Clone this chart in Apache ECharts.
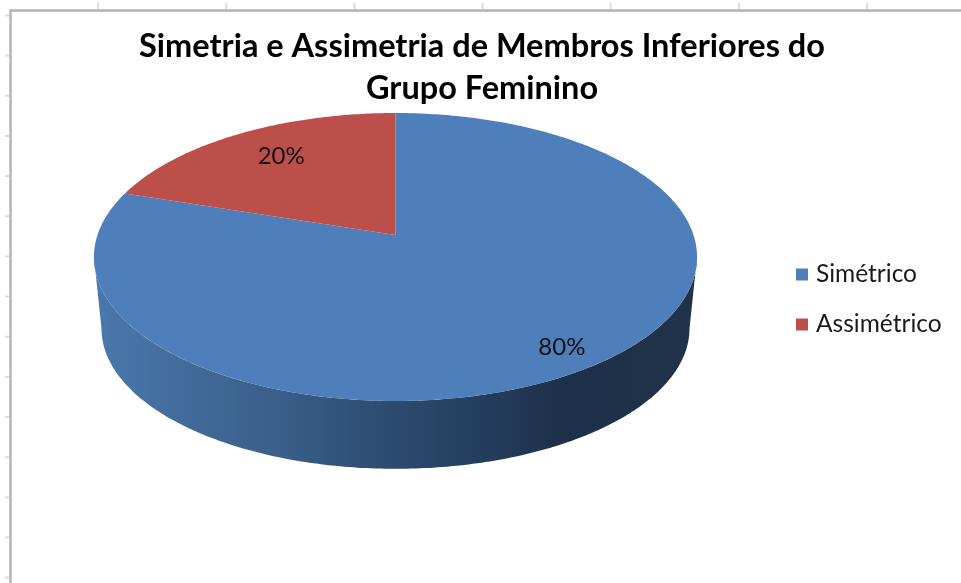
<!DOCTYPE html>
<html>
<head>
<meta charset="utf-8">
<style>html,body{margin:0;padding:0;background:#fff}#c{width:961px;height:583px}</style>
<script src="https://cdn.jsdelivr.net/npm/echarts@6/dist/echarts.min.js"></script>
</head>
<body>
<div id="c"></div>
<script>
const titleText = 'Simetria e Assimetria de Membros Inferiores do\nGrupo Feminino';
const categories = ['Simétrico', 'Assimétrico'];
const values = [80, 20];
const colors = ['#4f7fbb', '#bd4f4b'];
const labelRadius = [0.85, 0.71];

const chart = echarts.init(document.getElementById('c'), null, {renderer: 'canvas'});
const total = values.reduce((a, b) => a + b, 0);

// perspective disc
const CX = 395.5, CY = 235, A = 298, B = 140.6, K = 0.1528, DEPTH = 72, BOTTOM_SCALE = 0.975;
function project(t, rho, lower) {
  const u = Math.sin(t) * rho, v = -Math.cos(t) * rho, d = 1 - K * v;
  const s = lower ? BOTTOM_SCALE : 1;
  return [CX + s * A * u / d, CY + (lower ? DEPTH : 0) + s * B * v / d];
}
const wallStops = [
  [0, '#4a78ad'], [0.14, '#426c9c'], [0.3, '#3a5f8b'], [0.5, '#2c4a6e'],
  [0.68, '#223a58'], [0.78, '#1d3049'], [1, '#203349']
];
const tanStart = Math.PI - Math.acos(K), tanEnd = Math.PI + Math.acos(K);

function arc(a, b, rho, lower) {
  const pts = [], n = Math.max(2, Math.ceil(Math.abs(b - a) / (Math.PI / 240)));
  for (let i = 0; i <= n; i++) pts.push(project(a + (b - a) * i / n, rho, lower));
  return pts;
}

function sliceRenderer(idx) {
  const before = values.slice(0, idx).reduce((a, b) => a + b, 0);
  return function (params, api) {
    const val = api.value(0);
    const t0 = before / total * 2 * Math.PI;
    const t1 = (before + val) / total * 2 * Math.PI;
    const children = [];
    const wa = Math.max(t0, tanStart), wb = Math.min(t1, tanEnd);
    if (wb > wa) {
      const pts = arc(wa, wb, 1, false).concat(arc(wb, wa, 1, true));
      children.push({
        type: 'polygon', shape: {points: pts},
        style: {fill: new echarts.graphic.LinearGradient(0, 0, 1, 0, wallStops.map(s => ({offset: s[0], color: s[1]})))}
      });
    }
    const top = [[CX, CY]].concat(arc(t0, t1, 1, false));
    children.push({type: 'polygon', shape: {points: top}, style: {fill: colors[idx]}});
    const tm = (t0 + t1) / 2, p = project(tm, labelRadius[idx], false);
    children.push({
      type: 'text', z2: 10,
      style: {
        text: val + '%', x: p[0], y: p[1] + (idx === 1 ? -4 : 4), align: 'center', verticalAlign: 'middle',
        fontFamily: 'Lato', fontSize: 24, fill: '#111'
      }
    });
    return {type: 'group', children};
  };
}

// spreadsheet frame and ruler ticks behind the chart
const marks = [];
const tickStyle = {stroke: '#d6dcea', lineWidth: 2};
for (let i = 0; i < 7; i++) {
  const x = 98 + i * 128.2;
  marks.push({type: 'line', silent: true, shape: {x1: x, y1: 3, x2: x, y2: 9}, style: tickStyle});
}
for (let i = 0; i < 15; i++) {
  const y = 15.5 + i * 40.15;
  marks.push({type: 'line', silent: true, shape: {x1: 5, y1: y, x2: 9, y2: y}, style: tickStyle});
}
marks.push({type: 'polyline', silent: true, shape: {points: [[10.5, 583], [10.5, 10.5], [961, 10.5]]},
  style: {stroke: '#b2b2b2', lineWidth: 2.4, fill: null}});

chart.setOption({
  animation: false,
  backgroundColor: '#ffffff',
  title: {
    text: titleText, left: 482, top: 25.5, textAlign: 'center', padding: 0,
    textStyle: {fontFamily: 'Lato', fontWeight: 'bold', fontSize: 32.5, lineHeight: 42, color: '#000'}
  },
  legend: {
    orient: 'vertical', left: 796, top: 262, padding: 0, itemWidth: 12, itemHeight: 12, itemGap: 25,
    icon: 'rect', data: categories,
    textStyle: {fontFamily: 'Lato', fontSize: 24.5, color: '#1a1a1a', padding: [0, 0, 0, 3]},
    selectedMode: false
  },
  graphic: {elements: marks},
  series: categories.map((name, i) => ({
    type: 'custom', name, coordinateSystem: 'none', silent: true, clip: false,
    itemStyle: {color: colors[i]},
    renderItem: sliceRenderer(i),
    data: [[values[i]]]
  }))
});
</script>
</body>
</html>
